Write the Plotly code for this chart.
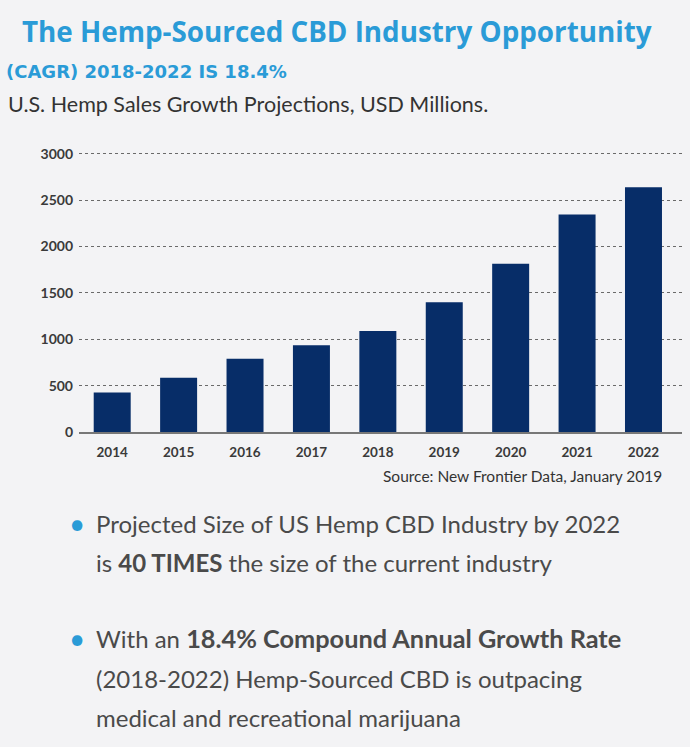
import plotly.graph_objects as go

years = ["2014", "2015", "2016", "2017", "2018", "2019", "2020", "2021", "2022"]
sales = [425, 585, 790, 935, 1090, 1400, 1815, 2345, 2640]
y_ticks = [0, 500, 1000, 1500, 2000, 2500, 3000]

BLUE = "#2a9bd7"
NAVY = "#072d68"
GRAY = "#4a4a4a"
BG = "#f3f3f5"
FONT = "Lato"

W, H = 690, 747
L, R, T, B = 79, 8, 151, 315

fig = go.Figure()
fig.add_trace(go.Bar(x=years, y=sales, marker=dict(color=NAVY, line=dict(width=0)),
                     hoverinfo="x+y"))

fig.update_layout(
    width=W, height=H,
    paper_bgcolor=BG, plot_bgcolor=BG,
    margin=dict(l=L, r=R, t=T, b=B),
    bargap=0.443,
    showlegend=False,
    font=dict(family=FONT, color="#333333"),
)
fig.update_yaxes(
    range=[0, 3030], tickvals=y_ticks, showgrid=True, gridcolor="#6a6a6a",
    griddash="dot", gridwidth=1, zeroline=False, showline=False,
    tickfont=dict(family=FONT, size=14, color="#3a3a3a", weight="bold"),
    ticklabelstandoff=5,
)
fig.update_xaxes(
    range=[-0.5, 8.58],
    showline=True, linecolor="#777777", linewidth=1.5, showgrid=False,
    tickfont=dict(family=FONT, size=13.5, color="#3a3a3a", weight="bold"),
    ticklabelstandoff=7,
)

ann = []
def text(x, y, t, size, color, xanchor="left", bold=False, family=FONT):
    ann.append(dict(x=x, y=y, xref="paper", yref="paper", text=t, showarrow=False,
                    xanchor=xanchor, yanchor="middle",
                    font=dict(family=family, size=size, color=color,
                              weight="bold" if bold else "normal")))

def px(xp):
    return (xp - L) / (W - L - R)
def py(yp):
    return (H - B - yp) / (H - T - B)

text(px(20), py(31), "The Hemp-Sourced CBD Industry Opportunity", 27.8, BLUE, bold=True, family="Open Sans")
text(px(4), py(72), "(CAGR) 2018-2022 IS 18.4%", 18, BLUE, bold=True, family="DejaVu Sans")
text(px(6), py(104), "U.S. Hemp Sales Growth Projections, USD Millions.", 21.5, "#333333")
text(px(664), py(476), "Source: New Frontier Data, January 2019", 15.5, "#333333", xanchor="right")

text(px(67), py(523), "•", 28, BLUE)
text(px(94), py(523), "Projected Size of US Hemp CBD Industry by 2022", 24, GRAY)
text(px(94), py(562), "is <b>40 TIMES</b> the size of the current industry", 24, GRAY)
text(px(67), py(638), "•", 28, BLUE)
text(px(94), py(638), "With an <b><span style=\"font-size:25.3px\">18.4% Compound Annual Growth Rate</span></b>", 24, GRAY)
text(px(94), py(678), "(2018-2022) Hemp-Sourced CBD is outpacing", 24, GRAY)
text(px(94), py(717), "medical and recreational marijuana", 24, GRAY)

fig.update_layout(annotations=ann)
fig.write_html("out.html", config={"displayModeBar": False},
               post_script="document.body.style.margin='0';")
